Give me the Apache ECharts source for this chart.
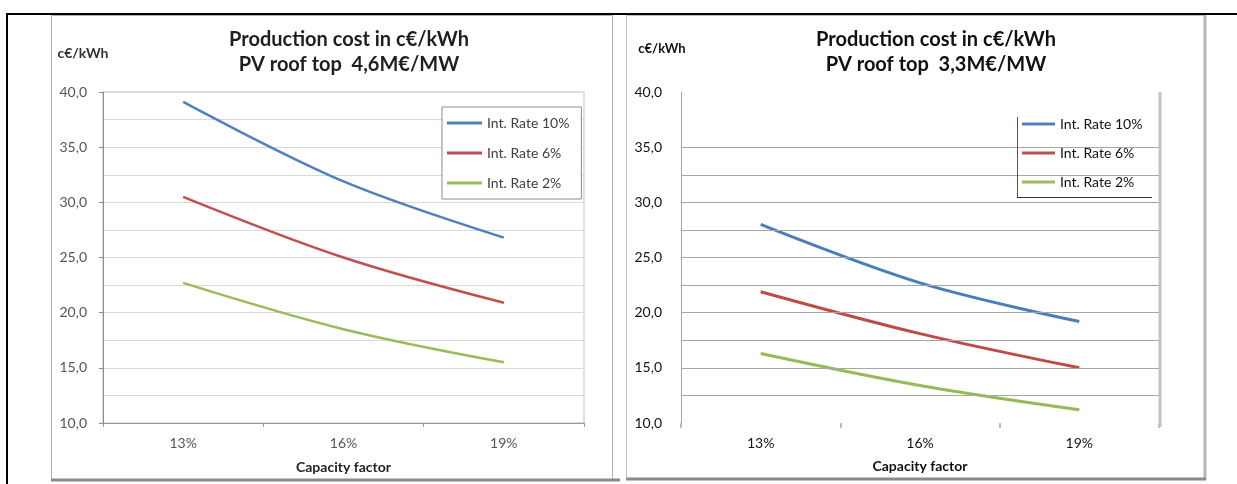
<!DOCTYPE html>
<html><head><meta charset="utf-8">
<script src="https://cdn.jsdelivr.net/npm/echarts@6/dist/echarts.min.js"></script>
<style>html,body{margin:0;padding:0;background:#fff}#c{width:1237px;height:484px}</style>
</head><body><div id="c"></div><script>
// ---- data ----
const categories = ['13%', '16%', '19%'];
const seriesNames = ['Int. Rate 10%', 'Int. Rate 6%', 'Int. Rate 2%'];
const leftRate10 = [39.1, 31.9, 26.8];
const leftRate6 = [30.5, 25.0, 20.9];
const leftRate2 = [22.7, 18.5, 15.5];
const rightRate10 = [28.0, 22.7, 19.2];
const rightRate6 = [21.9, 18.1, 15.0];
const rightRate2 = [16.3, 13.4, 11.2];
const yMin = 10, yMax = 40, yStep = 5;
const rightGridValues = [12.5, 15, 17.5, 20, 22.5, 25, 27.5, 30, 32.5, 35];
const leftTitle = ['Production cost in c€/kWh', 'PV roof top  4,6M€/MW'];
const rightTitle = ['Production cost in c€/kWh', 'PV roof top  3,3M€/MW'];
const unitLabel = 'c€/kWh';
const xName = 'Capacity factor';

const FONT = 'Lato';
const leftColors = ['#4f81bd', '#c0504d', '#9bbb59'];
const rightColors = ['#4a7ebb', '#be4b48', '#98b954'];
const fmt = v => v.toFixed(1).replace('.', ',');

const chart = echarts.init(document.getElementById('c'), null, {renderer: 'canvas'});

function line(name, data, color, idx, width) {
  return {
    name, type: 'line', data, xAxisIndex: idx, yAxisIndex: idx,
    smooth: 0.35, symbol: 'none', z: 3,
    lineStyle: {color, width}, itemStyle: {color}
  };
}

const option = {
  animation: false,
  backgroundColor: '#fff',
  title: [
    {text: leftTitle.join('\n'), left: 344, top: 22, textAlign: 'center',
     textStyle: {fontFamily: FONT, fontWeight: 'bold', fontSize: 20, lineHeight: 25, color: '#1f1f1f'}},
    {text: rightTitle.join('\n'), left: 931, top: 22, textAlign: 'center',
     textStyle: {fontFamily: FONT, fontWeight: 'bold', fontSize: 20, lineHeight: 25, color: '#111'}}
  ],
  legend: [
    {left: 442, top: 107, orient: 'vertical', data: seriesNames,
     padding: [8, 12, 8, 5], itemGap: 14, itemWidth: 35, itemHeight: 3, icon: 'rect',
     borderColor: '#8c8c8c', borderWidth: 1, backgroundColor: '#fff',
     textStyle: {fontFamily: FONT, fontSize: 14, lineHeight: 16, color: '#404040'}},
    {left: 1017, top: 108, orient: 'vertical', data: seriesNames,
     padding: [8, 10, 8, 5], itemGap: 13, itemWidth: 33, itemHeight: 3, icon: 'rect',
     backgroundColor: '#fff',
     textStyle: {fontFamily: FONT, fontSize: 14, lineHeight: 16, color: '#111'}}
  ],
  grid: [
    {left: 103, top: 92, width: 481, height: 331, show: true, borderColor: '#bfbfbf', borderWidth: 1, backgroundColor: 'transparent'},
    {left: 681, top: 92, width: 478, height: 331}
  ],
  xAxis: [
    {type: 'category', gridIndex: 0, data: categories, boundaryGap: true,
     axisLine: {lineStyle: {color: '#9a9a9a'}},
     axisTick: {show: true, length: 4, lineStyle: {color: '#9a9a9a'}},
     axisLabel: {margin: 13, fontFamily: FONT, fontSize: 14, color: '#555'},
     name: xName, nameLocation: 'middle', nameGap: 37,
     nameTextStyle: {fontFamily: FONT, fontSize: 14, fontWeight: 'bold', color: '#222'}},
    {type: 'category', gridIndex: 1, data: categories, boundaryGap: true,
     axisLine: {show: false},
     axisTick: {show: true, length: 5, lineStyle: {color: '#bbb', width: 2}},
     axisLabel: {margin: 13, fontFamily: FONT, fontSize: 14, color: '#111'},
     name: xName, nameLocation: 'middle', nameGap: 36,
     nameTextStyle: {fontFamily: FONT, fontSize: 14, fontWeight: 'bold', color: '#111'}}
  ],
  yAxis: [
    {type: 'value', gridIndex: 0, min: yMin, max: yMax, interval: yStep,
     axisLine: {show: true, lineStyle: {color: '#8c8c8c'}},
     axisTick: {show: true, length: 4, lineStyle: {color: '#8c8c8c'}},
     axisLabel: {margin: 16, formatter: fmt, fontFamily: FONT, fontSize: 14, color: '#555'},
     splitLine: {show: true, lineStyle: {color: '#d9d9d9'}},
     minorTick: {show: false, splitNumber: 2},
     minorSplitLine: {show: true, lineStyle: {color: '#d9d9d9'}}},
    {type: 'value', gridIndex: 1, min: yMin, max: yMax, interval: yStep,
     axisLine: {show: true, lineStyle: {color: '#a6a6a6'}},
     axisTick: {show: false},
     axisLabel: {margin: 19, formatter: fmt, fontFamily: FONT, fontSize: 14, color: '#111'},
     splitLine: {show: false}}
  ],
  series: [
    {name: 'grid-lines', type: 'line', xAxisIndex: 1, yAxisIndex: 1, data: ['-', '-', '-'],
     symbol: 'none', silent: true, z: 1, legendHoverLink: false,
     markLine: {silent: true, symbol: ['none', 'none'], label: {show: false},
       lineStyle: {color: '#a6a6a6', type: 'solid', width: 1},
       data: rightGridValues.map(v => ({yAxis: v}))}},
    line(seriesNames[0], leftRate10, leftColors[0], 0, 2.5),
    line(seriesNames[1], leftRate6, leftColors[1], 0, 2.5),
    line(seriesNames[2], leftRate2, leftColors[2], 0, 2.5),
    line(seriesNames[0], rightRate10, rightColors[0], 1, 3),
    line(seriesNames[1], rightRate6, rightColors[1], 1, 3),
    line(seriesNames[2], rightRate2, rightColors[2], 1, 3)
  ],
  graphic: [
    // document frame
    {type: 'line', shape: {x1: 6, y1: 14, x2: 1237, y2: 14}, style: {stroke: '#000', lineWidth: 2}, z: 10},
    {type: 'line', shape: {x1: 7, y1: 14, x2: 7, y2: 484}, style: {stroke: '#000', lineWidth: 2}, z: 10},
    // left panel
    {type: 'rect', shape: {x: 51.5, y: 15.5, width: 561, height: 464}, style: {fill: 'none', stroke: '#b0b0b0', lineWidth: 1}, z: 0},
    {type: 'line', shape: {x1: 51, y1: 480, x2: 620, y2: 480}, style: {stroke: '#8a8a8a', lineWidth: 3}, z: 0},
    // right panel
    {type: 'rect', shape: {x: 626.5, y: 15.5, width: 578, height: 463}, style: {fill: 'none', stroke: '#c0c0c0', lineWidth: 1}, z: 0},
    {type: 'line', shape: {x1: 1205, y1: 15, x2: 1205, y2: 480}, style: {stroke: '#b5b5b5', lineWidth: 3}, z: 0},
    {type: 'line', shape: {x1: 626, y1: 479, x2: 1206, y2: 479}, style: {stroke: '#8a8a8a', lineWidth: 3}, z: 0},
    // right plot right border
    {type: 'line', shape: {x1: 1160, y1: 92, x2: 1160, y2: 427}, style: {stroke: '#c4c4c4', lineWidth: 3}, z: 1},
    // right legend partial border
    {type: 'line', shape: {x1: 1017.5, y1: 117, x2: 1017.5, y2: 197}, style: {stroke: '#555', lineWidth: 1}, z: 20},
    {type: 'line', shape: {x1: 1017, y1: 197.5, x2: 1152, y2: 197.5}, style: {stroke: '#333', lineWidth: 1}, z: 20},
    // unit labels
    {type: 'text', x: 83, y: 53, style: {text: unitLabel, font: 'bold 14px Lato', fill: '#333', align: 'center', verticalAlign: 'middle'}, z: 10},
    {type: 'text', x: 662, y: 49, style: {text: unitLabel, font: 'bold 13px Lato', fill: '#111', align: 'center', verticalAlign: 'middle'}, z: 10}
  ]
};
chart.setOption(option);
</script></body></html>
